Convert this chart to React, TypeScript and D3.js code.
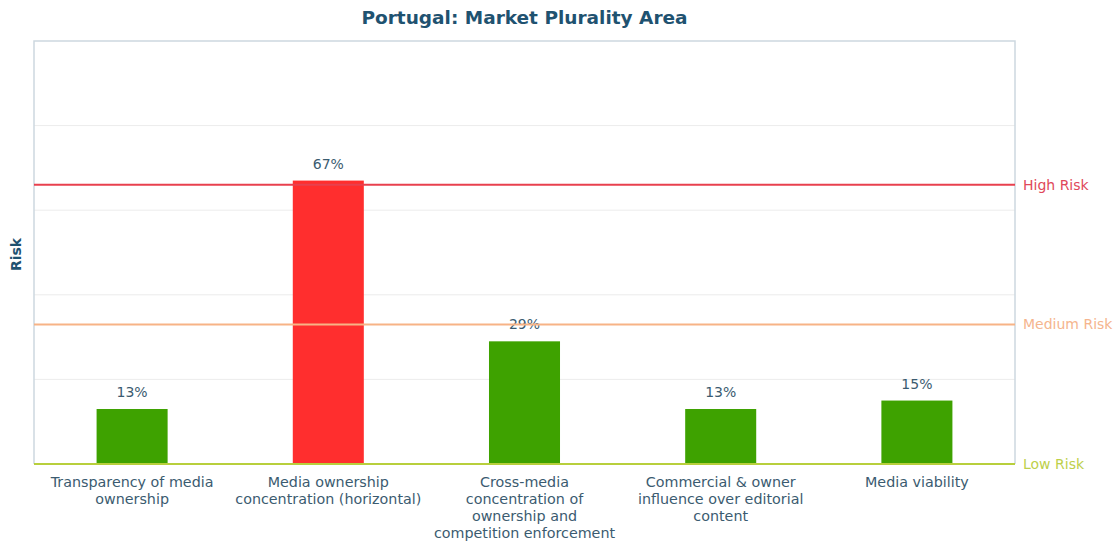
import React, { useEffect, useRef } from "react";
import * as d3 from "d3";

const categories = [
  ["Transparency of media", "ownership"],
  ["Media ownership", "concentration (horizontal)"],
  ["Cross-media", "concentration of", "ownership and", "competition enforcement"],
  ["Commercial & owner", "influence over editorial", "content"],
  ["Media viability"],
];
const values = [13, 67, 29, 13, 15];
const barColors = ["#3ea200", "#ff2e2e", "#3ea200", "#3ea200", "#3ea200"];
const gridTicks = [20, 40, 60, 80];
const thresholds = [
  { label: "High Risk", value: 66, color: "#e8404e", text: "#e0485a" },
  { label: "Medium Risk", value: 33, color: "#f7b386", text: "#f5b58e" },
  { label: "Low Risk", value: 0, color: "#b8cf3c", text: "#bdd04a" },
];

const W = 1119;
const H = 542;

const App: React.FC = () => {
  const svgRef = useRef<SVGSVGElement>(null);

  useEffect(() => {
    if (!svgRef.current) return;
    const svg = d3.select(svgRef.current);
    svg.selectAll("*").remove();

    const margin = { top: 41, right: 104, bottom: 78, left: 34 };
    const innerW = W - margin.left - margin.right;
    const innerH = H - margin.top - margin.bottom;
    const font = "DejaVu Sans, sans-serif";

    const x = d3.scaleBand<number>()
      .domain(d3.range(values.length))
      .range([0, innerW])
      .paddingInner(0.638)
      .paddingOuter(0.319);

    const y = d3.scaleLinear().domain([0, 100]).range([innerH, 0]);

    const g = svg.append("g").attr("transform", `translate(${margin.left},${margin.top})`);

    // grid
    g.selectAll(".grid")
      .data(gridTicks)
      .join("line")
      .attr("x1", 0)
      .attr("x2", innerW)
      .attr("y1", d => y(d))
      .attr("y2", d => y(d))
      .attr("stroke", "#ececec")
      .attr("stroke-width", 1);

    // frame
    g.append("path")
      .attr("d", `M0,${innerH}V0H${innerW}V${innerH}`)
      .attr("fill", "none")
      .attr("stroke", "#cdd8df")
      .attr("stroke-width", 1.5);

    // bars
    g.selectAll(".bar")
      .data(values)
      .join("rect")
      .attr("x", (d, i) => x(i)!)
      .attr("y", d => y(d))
      .attr("width", x.bandwidth())
      .attr("height", d => innerH - y(d))
      .attr("fill", (d, i) => barColors[i]);

    g.selectAll(".val")
      .data(values)
      .join("text")
      .attr("x", (d, i) => x(i)! + x.bandwidth() / 2)
      .attr("y", d => y(d) - 12)
      .attr("text-anchor", "middle")
      .attr("fill", "#3b5b70")
      .style("font-family", font)
      .style("font-size", "14px")
      .text(d => `${d}%`);

    // threshold lines
    thresholds.forEach(t => {
      g.append("line")
        .attr("x1", 0)
        .attr("x2", innerW)
        .attr("y1", y(t.value))
        .attr("y2", y(t.value))
        .attr("stroke", t.color)
        .attr("stroke-width", 2);
      g.append("text")
        .attr("x", innerW + 8)
        .attr("y", y(t.value))
        .attr("dy", "0.35em")
        .attr("fill", t.text)
        .style("font-family", font)
        .style("font-size", "14px")
        .text(t.label);
    });

    // x labels
    categories.forEach((lines, i) => {
      const t = g.append("text")
        .attr("x", x(i)! + x.bandwidth() / 2)
        .attr("y", innerH + 23)
        .attr("text-anchor", "middle")
        .attr("fill", "#3b5b70")
        .style("font-family", font)
        .style("font-size", "14.3px");
      lines.forEach((l, j) => {
        t.append("tspan")
          .attr("x", x(i)! + x.bandwidth() / 2)
          .attr("dy", j === 0 ? 0 : 17)
          .text(l);
      });
    });

    // y label
    svg.append("text")
      .attr("transform", `translate(21,${margin.top + innerH / 2 + 2}) rotate(-90)`)
      .attr("text-anchor", "middle")
      .attr("fill", "#1f5270")
      .style("font-family", font)
      .style("font-size", "14px")
      .style("font-weight", "bold")
      .text("Risk");

    // title
    svg.append("text")
      .attr("x", margin.left + innerW / 2)
      .attr("y", 24)
      .attr("text-anchor", "middle")
      .attr("fill", "#1f5270")
      .style("font-family", font)
      .style("font-size", "18.5px")
      .style("font-weight", "bold")
      .text("Portugal: Market Plurality Area");
  }, []);

  return <svg ref={svgRef} width={W} height={H} style={{ display: "block", position: "absolute", left: 0, top: 0, background: "#fff" }} />;
};

export default App;
